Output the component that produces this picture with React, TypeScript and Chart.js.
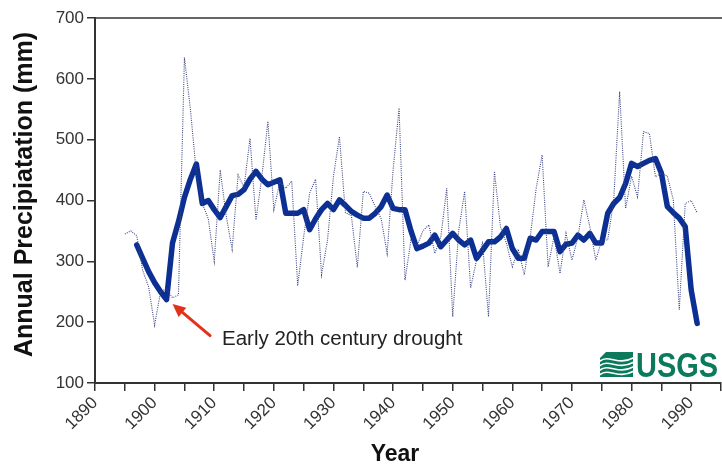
import React, { useEffect, useRef } from "react";
import { Chart, registerables } from "chart.js";

Chart.register(...registerables);

// ---- Data ----
const annualYears = [
  1895, 1896, 1897, 1898, 1899, 1900, 1901, 1902, 1903, 1904,
  1905, 1906, 1907, 1908, 1909, 1910, 1911, 1912, 1913, 1914,
  1915, 1916, 1917, 1918, 1919, 1920, 1921, 1922, 1923, 1924,
  1925, 1926, 1927, 1928, 1929, 1930, 1931, 1932, 1933, 1934,
  1935, 1936, 1937, 1938, 1939, 1940, 1941, 1942, 1943, 1944,
  1945, 1946, 1947, 1948, 1949, 1950, 1951, 1952, 1953, 1954,
  1955, 1956, 1957, 1958, 1959, 1960, 1961, 1962, 1963, 1964,
  1965, 1966, 1967, 1968, 1969, 1970, 1971, 1972, 1973, 1974,
  1975, 1976, 1977, 1978, 1979, 1980, 1981, 1982, 1983, 1984,
  1985, 1986, 1987, 1988, 1989, 1990, 1991,
];
const annualPrecip = [
  345, 350, 342, 285, 258, 195, 250, 255, 240, 245,
  635, 550, 445, 395, 370, 300, 450, 375, 320, 442,
  422, 502, 368, 440, 530, 385, 430, 420, 432, 260,
  340, 412, 435, 278, 335, 440, 505, 380, 375, 290,
  415, 412, 390, 370, 313, 450, 552, 269, 335, 325,
  350, 360, 313, 340, 420, 209, 350, 415, 256, 302,
  330, 209, 448, 357, 330, 291, 320, 278, 340, 420,
  475, 291, 341, 280, 346, 302, 340, 401, 357, 302,
  335, 335, 400, 579, 387, 440, 406, 513, 510, 439,
  445, 440, 401, 220, 395, 400, 380,
];

const smoothYears = [
  1897, 1898, 1899, 1900, 1901, 1902, 1903, 1904, 1905, 1906,
  1907, 1908, 1909, 1910, 1911, 1912, 1913, 1914, 1915, 1916,
  1917, 1918, 1919, 1920, 1921, 1922, 1923, 1924, 1925, 1926,
  1927, 1928, 1929, 1930, 1931, 1932, 1933, 1934, 1935, 1936,
  1937, 1938, 1939, 1940, 1941, 1942, 1943, 1944, 1945, 1946,
  1947, 1948, 1949, 1950, 1951, 1952, 1953, 1954, 1955, 1956,
  1957, 1958, 1959, 1960, 1961, 1962, 1963, 1964, 1965, 1966,
  1967, 1968, 1969, 1970, 1971, 1972, 1973, 1974, 1975, 1976,
  1977, 1978, 1979, 1980, 1981, 1982, 1983, 1984, 1985, 1986,
  1987, 1988, 1989, 1990, 1991,
];
const smoothPrecip = [
  327, 305, 283, 265, 250, 237, 330, 365, 405, 435,
  460, 395, 400, 385, 372, 390, 408, 410, 418, 435,
  448, 435, 426, 430, 434, 379, 379, 379, 385, 352,
  370, 385, 395, 385, 401, 392, 382, 376, 371, 371,
  379, 390, 409, 387, 385, 385, 350, 321, 325, 330,
  343, 324, 335, 346, 335, 327, 335, 305, 318, 332,
  332, 340, 354, 321, 305, 305, 338, 335, 349, 349,
  349, 316, 328, 330, 343, 335, 346, 330, 330, 379,
  395, 405, 428, 461, 456, 461, 466, 469, 445, 390,
  380, 371, 357, 253, 198,
];

const labeledYears = [1890, 1900, 1910, 1920, 1930, 1940, 1950, 1960, 1970, 1980, 1990];
const yTicks = [100, 200, 300, 400, 500, 600, 700];

// annotation anchors in data units
const arrowTip = { x: 1903.0, y: 230 };
const arrowTail = { x: 1909.3, y: 178 };
const noteAnchor = { x: 1911.3, y: 171 };
const noteText = "Early 20th century drought";

const FONT = '"Liberation Sans", Arial, Helvetica, sans-serif';

const decorPlugin = {
  id: "decor",
  afterDraw(chart: any) {
    const { ctx, chartArea, scales } = chart;
    const xs = scales.x;
    const ys = scales.y;
    ctx.save();

    // top border line
    ctx.strokeStyle = "#333";
    ctx.lineWidth = 1.5;
    ctx.beginPath();
    ctx.moveTo(chartArea.left, chartArea.top);
    ctx.lineTo(chartArea.right + 1, chartArea.top);
    ctx.stroke();

    // y title
    ctx.fillStyle = "#111";
    ctx.font = `bold 25px ${FONT}`;
    ctx.textAlign = "center";
    ctx.textBaseline = "middle";
    ctx.save();
    ctx.translate(25, (chartArea.top + chartArea.bottom) / 2 - 6);
    ctx.rotate(-Math.PI / 2);
    ctx.fillText("Annual Precipiatation (mm)", 0, 0);
    ctx.restore();

    // x title
    ctx.font = `bold 23px ${FONT}`;
    ctx.fillText("Year", 395, 455);

    // annotation arrow
    const tx = xs.getPixelForValue(arrowTip.x);
    const ty = ys.getPixelForValue(arrowTip.y);
    const sx = xs.getPixelForValue(arrowTail.x);
    const sy = ys.getPixelForValue(arrowTail.y);
    const ang = Math.atan2(ty - sy, tx - sx);
    const headLen = 13;
    const headW = 6;
    const bx = tx - headLen * Math.cos(ang);
    const by = ty - headLen * Math.sin(ang);
    ctx.strokeStyle = "#e2321b";
    ctx.fillStyle = "#e2321b";
    ctx.lineWidth = 3;
    ctx.lineCap = "round";
    ctx.beginPath();
    ctx.moveTo(sx, sy);
    ctx.lineTo(bx, by);
    ctx.stroke();
    ctx.beginPath();
    ctx.moveTo(tx, ty);
    ctx.lineTo(bx + headW * Math.sin(ang), by - headW * Math.cos(ang));
    ctx.lineTo(bx - headW * Math.sin(ang), by + headW * Math.cos(ang));
    ctx.closePath();
    ctx.fill();

    // annotation text
    ctx.fillStyle = "#222";
    ctx.font = `20.5px ${FONT}`;
    ctx.textAlign = "left";
    ctx.textBaseline = "middle";
    ctx.fillText(noteText, xs.getPixelForValue(noteAnchor.x), ys.getPixelForValue(noteAnchor.y));

    // USGS logo
    const green = "#0b7a5c";
    const right = chartArea.right - 3;
    const bottom = chartArea.bottom - 6;
    ctx.fillStyle = green;
    ctx.font = `bold 35px "Liberation Sans Narrow", ${FONT}`;
    const w = ctx.measureText("USGS").width;
    const targetW = 82;
    ctx.save();
    ctx.translate(right, bottom);
    ctx.scale(targetW / w, 1);
    ctx.textAlign = "right";
    ctx.textBaseline = "alphabetic";
    ctx.fillText("USGS", 0, 0);
    ctx.restore();
    // wave mark
    const lx = right - targetW - 36;
    const ly = bottom - 25;
    const lw = 33;
    const lh = 25;
    ctx.beginPath();
    ctx.moveTo(lx + 6, ly);
    ctx.lineTo(lx + lw, ly);
    ctx.lineTo(lx + lw, ly + lh);
    ctx.lineTo(lx, ly + lh);
    ctx.lineTo(lx, ly + 6);
    ctx.closePath();
    ctx.fill();
    ctx.strokeStyle = "#fff";
    ctx.lineWidth = 1.6;
    for (let k = 0; k < 4; k++) {
      const yy = ly + 7 + k * 4.5;
      ctx.beginPath();
      ctx.moveTo(lx, yy + 2);
      ctx.bezierCurveTo(lx + 9, yy - 5, lx + 18, yy + 7, lx + lw, yy - 1);
      ctx.stroke();
    }

    ctx.restore();
  },
};

export default function App() {
  const ref = useRef<HTMLCanvasElement | null>(null);

  useEffect(() => {
    if (!ref.current) return;
    const chart = new Chart(ref.current, {
      type: "line",
      data: {
        datasets: [
          {
            label: "Annual",
            data: annualYears.map((yr, i) => ({ x: yr, y: annualPrecip[i] })),
            borderColor: "#3c4682",
            borderWidth: 1.1,
            borderDash: [1, 1.2],
            pointRadius: 0,
            tension: 0,
            fill: false,
          },
          {
            label: "Smoothed",
            data: smoothYears.map((yr, i) => ({ x: yr, y: smoothPrecip[i] })),
            borderColor: "#0c2f93",
            borderWidth: 5.5,
            borderJoinStyle: "round",
            borderCapStyle: "round",
            pointRadius: 0,
            tension: 0,
            fill: false,
          },
        ],
      },
      options: {
        responsive: false,
        animation: false,
        devicePixelRatio: 1,
        layout: { padding: { top: 18, right: 1, left: 0, bottom: 0 } },
        plugins: { legend: { display: false }, tooltip: { enabled: false } },
        scales: {
          x: {
            type: "linear",
            min: 1890,
            max: 1995,
            ticks: {
              stepSize: 5,
              autoSkip: false,
              minRotation: 45,
              maxRotation: 45,
              padding: 2,
              color: "#333",
              font: { size: 17, family: FONT },
              callback: (v: any) => (labeledYears.includes(Number(v)) ? String(v) : ""),
            },
            grid: { drawOnChartArea: false, drawTicks: true, tickLength: 8, color: "#333", lineWidth: 1.5 },
            border: { display: true, color: "#333", width: 2 },
            afterFit: (s: any) => {
              s.height = 85;
              s.paddingRight = 0;
              s.paddingLeft = 0;
            },
          },
          y: {
            type: "linear",
            min: 100,
            max: 700,
            afterBuildTicks: (s: any) => {
              s.ticks = yTicks.map((v) => ({ value: v }));
            },
            ticks: {
              padding: 3,
              color: "#333",
              font: { size: 17, family: FONT },
            },
            grid: { drawOnChartArea: false, drawTicks: true, tickLength: 8, color: "#333", lineWidth: 1.5 },
            border: { display: true, color: "#333", width: 2 },
            afterFit: (s: any) => {
              s.width = 95;
            },
          },
        },
      },
      plugins: [decorPlugin],
    } as any);
    return () => chart.destroy();
  }, []);

  return (
    <canvas
      ref={ref}
      width={722}
      height={468}
      style={{ position: "absolute", left: 0, top: 0, width: 722, height: 468, background: "#fff" }}
    />
  );
}
